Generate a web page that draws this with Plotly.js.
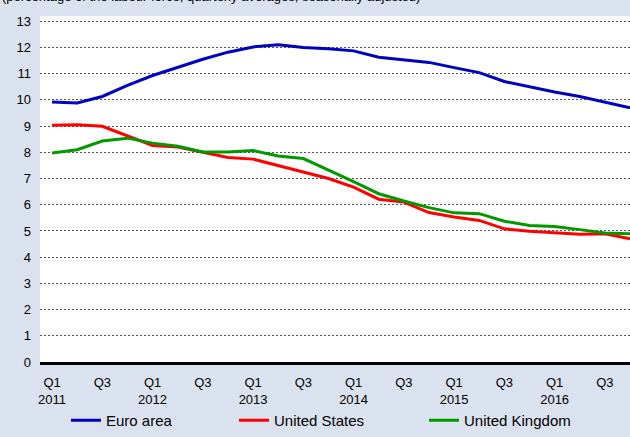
<!DOCTYPE html>
<html>
<head>
<meta charset="utf-8">
<script src="https://cdn.plot.ly/plotly-3.0.1.min.js"></script>
<style>html,body{margin:0;padding:0;background:#DBE2EF;}#chart{width:630px;height:437px;}</style>
</head>
<body>
<div id="chart"></div>
<script>
// Quarters Q1 2011 .. Q4 2016
const quarters = ["Q1 2011","Q2 2011","Q3 2011","Q4 2011","Q1 2012","Q2 2012","Q3 2012","Q4 2012",
  "Q1 2013","Q2 2013","Q3 2013","Q4 2013","Q1 2014","Q2 2014","Q3 2014","Q4 2014",
  "Q1 2015","Q2 2015","Q3 2015","Q4 2015","Q1 2016","Q2 2016","Q3 2016","Q4 2016"];
const euroArea = [9.92,9.88,10.13,10.55,10.93,11.25,11.55,11.82,12.02,12.10,12.00,11.95,
  11.87,11.63,11.53,11.43,11.23,11.04,10.70,10.50,10.30,10.13,9.92,9.70];
const unitedStates = [9.03,9.05,8.99,8.64,8.26,8.20,8.01,7.80,7.74,7.50,7.24,7.00,
  6.67,6.21,6.10,5.70,5.53,5.40,5.08,4.99,4.93,4.87,4.89,4.70];
const unitedKingdom = [7.97,8.10,8.43,8.54,8.35,8.23,8.01,8.01,8.07,7.86,7.76,7.33,
  6.88,6.42,6.14,5.89,5.69,5.66,5.37,5.21,5.17,5.05,4.92,4.89];
const tickIdx = [0,2,4,6,8,10,12,14,16,18,20,22];
const tickText = ["Q1<br>2011","Q3","Q1<br>2012","Q3","Q1<br>2013","Q3","Q1<br>2014","Q3","Q1<br>2015","Q3","Q1<br>2016","Q3"];
const yTicks = [0,1,2,3,4,5,6,7,8,9,10,11,12,13];
const subtitle = "(percentage of the labour force; quarterly averages; seasonally adjusted)";

const xIdx = quarters.map((q,i)=>i);
const font = {family: "Liberation Sans, Arial, sans-serif", size: 13, color: "#000"};
const legendFont = {family: "Liberation Sans, Arial, sans-serif", size: 15, color: "#000"};

const traces = [
  {x: xIdx, y: euroArea, name: "Euro area", type: "scatter", mode: "lines",
   line: {color: "#0000C0", width: 3}, legendwidth: 123, text: quarters, hoverinfo: "text+y"},
  {x: xIdx, y: unitedStates, name: "United States", type: "scatter", mode: "lines",
   line: {color: "#FF0000", width: 3}, legendwidth: 145, text: quarters, hoverinfo: "text+y"},
  {x: xIdx, y: unitedKingdom, name: "United Kingdom", type: "scatter", mode: "lines",
   line: {color: "#009900", width: 3}, text: quarters, hoverinfo: "text+y"}
];

const layout = {
  width: 630, height: 437,
  margin: {l: 40, r: 0, t: 16, b: 75, pad: 0},
  paper_bgcolor: "#DBE2EF",
  plot_bgcolor: "#FFFFFF",
  font: font,
  showlegend: true,
  legend: {orientation: "h", xref: "container", yref: "container",
    x: 66/630, xanchor: "left", y: 1 - 404/437, yanchor: "top",
    bgcolor: "rgba(0,0,0,0)", font: legendFont, itemwidth: 30},
  xaxis: {
    range: [-0.48, 23], tickmode: "array", tickvals: tickIdx, ticktext: tickText,
    showgrid: false, zeroline: false, showline: true, linecolor: "#000", linewidth: 3,
    ticks: "", ticklabelstandoff: 6, tickfont: font, fixedrange: true
  },
  yaxis: {
    range: [0, 13.2], tickmode: "array", tickvals: yTicks,
    showgrid: true, gridcolor: "#555555", gridwidth: 1, griddash: "2px,2px",
    zeroline: false, showline: false, ticks: "", ticklabelstandoff: 8, tickfont: font,
    fixedrange: true
  },
  annotations: [{
    text: subtitle, xref: "paper", yref: "paper", x: -40/590, xanchor: "left",
    y: 1.055, yanchor: "middle", showarrow: false, font: font
  }]
};

Plotly.newPlot("chart", traces, layout, {displayModeBar: false, staticPlot: true});
</script>
</body>
</html>
